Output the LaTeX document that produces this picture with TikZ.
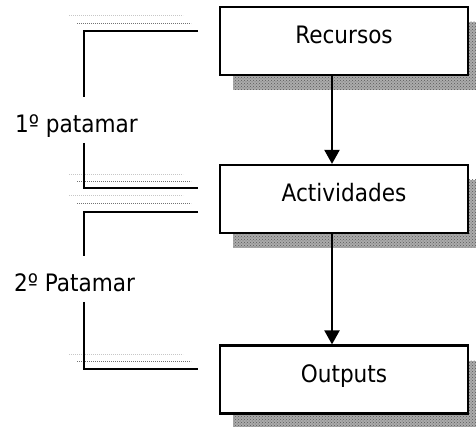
\documentclass[tikz,border=0pt]{standalone}
\usepackage{fontspec}
\setmainfont{DejaVu Sans Condensed}
\usetikzlibrary{arrows.meta,patterns}
\begin{document}
\begin{tikzpicture}[x=1pt,y=-1pt,
  stage/.style={draw=black, line width=2.2pt, fill=white,
    minimum width=248pt, minimum height=68pt, inner sep=0pt,
    font=\fontsize{24}{28}\selectfont, text height=17.5pt, text depth=12pt,
    preaction={fill=black!33, draw=none, transform canvas={shift={(13pt,-15pt)}}},
    preaction={pattern=crosshatch dots, pattern color=black!65, draw=none,
      transform canvas={shift={(13pt,-15pt)}}}},
  flow/.style={line width=2.2pt, -{Triangle[length=14pt,width=15pt]}},
  level/.style={line width=2.2pt},
  levellabel/.style={font=\fontsize{24}{28}\selectfont, anchor=base west, inner sep=0pt},
  trace/.style={line width=0.7pt, dash pattern=on 1.2pt off 0.8pt}
]
\useasboundingbox (0,0) rectangle (476,427);

% faint guide traces above each bracket arm
\foreach \y in {15,174,195,354}
  \draw[trace, black!22] (69,\y) -- (183,\y);
\foreach \y in {23,181,203,361}
  \draw[trace, black!55] (77,\y) -- (191,\y);

% process stages
\node[stage] (rec) at (344,41) {Recursos};
\node[stage] (act) at (344,199) {Actividades};
\node[stage] (out) at (344,379.5) {Outputs};

\draw[flow] ([xshift=-12pt]rec.south) -- ([xshift=-12pt]act.north);
\draw[flow] ([xshift=-12pt]act.south) -- ([xshift=-12pt]out.north);

% level brackets
\draw[level] (198,31) -- (84,31) -- (84,97);
\draw[level] (84,143) -- (84,188) -- (198,188);
\draw[level] (198,212) -- (84,212) -- (84,256);
\draw[level] (84,302) -- (84,369) -- (198,369);

\node[levellabel] (p1) at (15,133) {1º patamar};
\node[levellabel] (p2) at (14,292) {2º Patamar};
\end{tikzpicture}
\end{document}
